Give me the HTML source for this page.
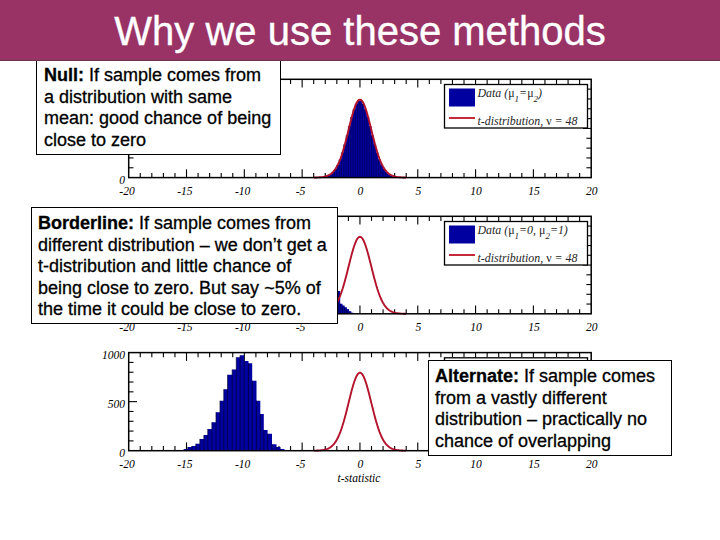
<!DOCTYPE html>
<html><head><meta charset="utf-8"><style>
html,body{margin:0;padding:0;}
body{-webkit-font-smoothing:antialiased;width:720px;height:540px;position:relative;overflow:hidden;background:#fff;font-family:"Liberation Sans",Arial,sans-serif;}
#hdr{position:absolute;left:0;top:0;width:720px;height:61px;background:linear-gradient(to bottom,#993366 0,#993366 56px,#a03068 56px,#a03068 57.6px,#8e3862 57.6px,#8e3862 59.5px,#702e50 59.5px,#702e50 60.5px,#f0e2ea 60.5px,#f6ecf2 61px);z-index:3;}
#hdr h1{margin:0;position:absolute;left:0;width:720px;top:0.5px;text-align:center;color:#fff;-webkit-text-stroke:0.35px #fff;font-weight:normal;font-size:40px;line-height:60px;}
svg{position:absolute;left:0;top:0;z-index:1;}
.ax{font-family:"Liberation Serif",serif;font-style:italic;font-size:11.5px;fill:#000;}
.lg{font-family:"Liberation Serif",serif;font-style:italic;font-size:11.9px;fill:#262626;}
.sym{font-style:normal;}
.box{position:absolute;z-index:2;background:#fff;border:1px solid #000;box-sizing:border-box;}
.tx{position:absolute;-webkit-text-stroke:0.3px #000;font-size:18px;line-height:21.5px;color:#000;white-space:nowrap;}
.tx b{font-weight:bold;}
</style></head><body>
<div id="hdr"><h1>Why we use these methods</h1></div>
<svg width="720" height="540" viewBox="0 0 720 540">
<line x1="140.26" y1="177.60" x2="140.26" y2="173.00" stroke="#000" stroke-width="1.1"/>
<line x1="140.26" y1="79.30" x2="140.26" y2="83.90" stroke="#000" stroke-width="1.1"/>
<line x1="151.82" y1="177.60" x2="151.82" y2="173.00" stroke="#000" stroke-width="1.1"/>
<line x1="151.82" y1="79.30" x2="151.82" y2="83.90" stroke="#000" stroke-width="1.1"/>
<line x1="163.39" y1="177.60" x2="163.39" y2="173.00" stroke="#000" stroke-width="1.1"/>
<line x1="163.39" y1="79.30" x2="163.39" y2="83.90" stroke="#000" stroke-width="1.1"/>
<line x1="174.95" y1="177.60" x2="174.95" y2="173.00" stroke="#000" stroke-width="1.1"/>
<line x1="174.95" y1="79.30" x2="174.95" y2="83.90" stroke="#000" stroke-width="1.1"/>
<line x1="186.51" y1="177.60" x2="186.51" y2="169.30" stroke="#000" stroke-width="1.1"/>
<line x1="186.51" y1="79.30" x2="186.51" y2="87.60" stroke="#000" stroke-width="1.1"/>
<line x1="198.07" y1="177.60" x2="198.07" y2="173.00" stroke="#000" stroke-width="1.1"/>
<line x1="198.07" y1="79.30" x2="198.07" y2="83.90" stroke="#000" stroke-width="1.1"/>
<line x1="209.64" y1="177.60" x2="209.64" y2="173.00" stroke="#000" stroke-width="1.1"/>
<line x1="209.64" y1="79.30" x2="209.64" y2="83.90" stroke="#000" stroke-width="1.1"/>
<line x1="221.20" y1="177.60" x2="221.20" y2="173.00" stroke="#000" stroke-width="1.1"/>
<line x1="221.20" y1="79.30" x2="221.20" y2="83.90" stroke="#000" stroke-width="1.1"/>
<line x1="232.76" y1="177.60" x2="232.76" y2="173.00" stroke="#000" stroke-width="1.1"/>
<line x1="232.76" y1="79.30" x2="232.76" y2="83.90" stroke="#000" stroke-width="1.1"/>
<line x1="244.32" y1="177.60" x2="244.32" y2="169.30" stroke="#000" stroke-width="1.1"/>
<line x1="244.32" y1="79.30" x2="244.32" y2="87.60" stroke="#000" stroke-width="1.1"/>
<line x1="255.89" y1="177.60" x2="255.89" y2="173.00" stroke="#000" stroke-width="1.1"/>
<line x1="255.89" y1="79.30" x2="255.89" y2="83.90" stroke="#000" stroke-width="1.1"/>
<line x1="267.45" y1="177.60" x2="267.45" y2="173.00" stroke="#000" stroke-width="1.1"/>
<line x1="267.45" y1="79.30" x2="267.45" y2="83.90" stroke="#000" stroke-width="1.1"/>
<line x1="279.01" y1="177.60" x2="279.01" y2="173.00" stroke="#000" stroke-width="1.1"/>
<line x1="279.01" y1="79.30" x2="279.01" y2="83.90" stroke="#000" stroke-width="1.1"/>
<line x1="290.57" y1="177.60" x2="290.57" y2="173.00" stroke="#000" stroke-width="1.1"/>
<line x1="290.57" y1="79.30" x2="290.57" y2="83.90" stroke="#000" stroke-width="1.1"/>
<line x1="302.14" y1="177.60" x2="302.14" y2="169.30" stroke="#000" stroke-width="1.1"/>
<line x1="302.14" y1="79.30" x2="302.14" y2="87.60" stroke="#000" stroke-width="1.1"/>
<line x1="313.70" y1="177.60" x2="313.70" y2="173.00" stroke="#000" stroke-width="1.1"/>
<line x1="313.70" y1="79.30" x2="313.70" y2="83.90" stroke="#000" stroke-width="1.1"/>
<line x1="325.26" y1="177.60" x2="325.26" y2="173.00" stroke="#000" stroke-width="1.1"/>
<line x1="325.26" y1="79.30" x2="325.26" y2="83.90" stroke="#000" stroke-width="1.1"/>
<line x1="336.82" y1="177.60" x2="336.82" y2="173.00" stroke="#000" stroke-width="1.1"/>
<line x1="336.82" y1="79.30" x2="336.82" y2="83.90" stroke="#000" stroke-width="1.1"/>
<line x1="348.39" y1="177.60" x2="348.39" y2="173.00" stroke="#000" stroke-width="1.1"/>
<line x1="348.39" y1="79.30" x2="348.39" y2="83.90" stroke="#000" stroke-width="1.1"/>
<line x1="359.95" y1="177.60" x2="359.95" y2="169.30" stroke="#000" stroke-width="1.1"/>
<line x1="359.95" y1="79.30" x2="359.95" y2="87.60" stroke="#000" stroke-width="1.1"/>
<line x1="371.51" y1="177.60" x2="371.51" y2="173.00" stroke="#000" stroke-width="1.1"/>
<line x1="371.51" y1="79.30" x2="371.51" y2="83.90" stroke="#000" stroke-width="1.1"/>
<line x1="383.07" y1="177.60" x2="383.07" y2="173.00" stroke="#000" stroke-width="1.1"/>
<line x1="383.07" y1="79.30" x2="383.07" y2="83.90" stroke="#000" stroke-width="1.1"/>
<line x1="394.64" y1="177.60" x2="394.64" y2="173.00" stroke="#000" stroke-width="1.1"/>
<line x1="394.64" y1="79.30" x2="394.64" y2="83.90" stroke="#000" stroke-width="1.1"/>
<line x1="406.20" y1="177.60" x2="406.20" y2="173.00" stroke="#000" stroke-width="1.1"/>
<line x1="406.20" y1="79.30" x2="406.20" y2="83.90" stroke="#000" stroke-width="1.1"/>
<line x1="417.76" y1="177.60" x2="417.76" y2="169.30" stroke="#000" stroke-width="1.1"/>
<line x1="417.76" y1="79.30" x2="417.76" y2="87.60" stroke="#000" stroke-width="1.1"/>
<line x1="429.32" y1="177.60" x2="429.32" y2="173.00" stroke="#000" stroke-width="1.1"/>
<line x1="429.32" y1="79.30" x2="429.32" y2="83.90" stroke="#000" stroke-width="1.1"/>
<line x1="440.89" y1="177.60" x2="440.89" y2="173.00" stroke="#000" stroke-width="1.1"/>
<line x1="440.89" y1="79.30" x2="440.89" y2="83.90" stroke="#000" stroke-width="1.1"/>
<line x1="452.45" y1="177.60" x2="452.45" y2="173.00" stroke="#000" stroke-width="1.1"/>
<line x1="452.45" y1="79.30" x2="452.45" y2="83.90" stroke="#000" stroke-width="1.1"/>
<line x1="464.01" y1="177.60" x2="464.01" y2="173.00" stroke="#000" stroke-width="1.1"/>
<line x1="464.01" y1="79.30" x2="464.01" y2="83.90" stroke="#000" stroke-width="1.1"/>
<line x1="475.57" y1="177.60" x2="475.57" y2="169.30" stroke="#000" stroke-width="1.1"/>
<line x1="475.57" y1="79.30" x2="475.57" y2="87.60" stroke="#000" stroke-width="1.1"/>
<line x1="487.14" y1="177.60" x2="487.14" y2="173.00" stroke="#000" stroke-width="1.1"/>
<line x1="487.14" y1="79.30" x2="487.14" y2="83.90" stroke="#000" stroke-width="1.1"/>
<line x1="498.70" y1="177.60" x2="498.70" y2="173.00" stroke="#000" stroke-width="1.1"/>
<line x1="498.70" y1="79.30" x2="498.70" y2="83.90" stroke="#000" stroke-width="1.1"/>
<line x1="510.26" y1="177.60" x2="510.26" y2="173.00" stroke="#000" stroke-width="1.1"/>
<line x1="510.26" y1="79.30" x2="510.26" y2="83.90" stroke="#000" stroke-width="1.1"/>
<line x1="521.83" y1="177.60" x2="521.83" y2="173.00" stroke="#000" stroke-width="1.1"/>
<line x1="521.83" y1="79.30" x2="521.83" y2="83.90" stroke="#000" stroke-width="1.1"/>
<line x1="533.39" y1="177.60" x2="533.39" y2="169.30" stroke="#000" stroke-width="1.1"/>
<line x1="533.39" y1="79.30" x2="533.39" y2="87.60" stroke="#000" stroke-width="1.1"/>
<line x1="544.95" y1="177.60" x2="544.95" y2="173.00" stroke="#000" stroke-width="1.1"/>
<line x1="544.95" y1="79.30" x2="544.95" y2="83.90" stroke="#000" stroke-width="1.1"/>
<line x1="556.51" y1="177.60" x2="556.51" y2="173.00" stroke="#000" stroke-width="1.1"/>
<line x1="556.51" y1="79.30" x2="556.51" y2="83.90" stroke="#000" stroke-width="1.1"/>
<line x1="568.08" y1="177.60" x2="568.08" y2="173.00" stroke="#000" stroke-width="1.1"/>
<line x1="568.08" y1="79.30" x2="568.08" y2="83.90" stroke="#000" stroke-width="1.1"/>
<line x1="579.64" y1="177.60" x2="579.64" y2="173.00" stroke="#000" stroke-width="1.1"/>
<line x1="579.64" y1="79.30" x2="579.64" y2="83.90" stroke="#000" stroke-width="1.1"/>
<line x1="128.70" y1="167.77" x2="133.50" y2="167.77" stroke="#000" stroke-width="1.1"/>
<line x1="591.20" y1="167.77" x2="586.40" y2="167.77" stroke="#000" stroke-width="1.1"/>
<line x1="128.70" y1="157.94" x2="133.50" y2="157.94" stroke="#000" stroke-width="1.1"/>
<line x1="591.20" y1="157.94" x2="586.40" y2="157.94" stroke="#000" stroke-width="1.1"/>
<line x1="128.70" y1="148.11" x2="133.50" y2="148.11" stroke="#000" stroke-width="1.1"/>
<line x1="591.20" y1="148.11" x2="586.40" y2="148.11" stroke="#000" stroke-width="1.1"/>
<line x1="128.70" y1="138.28" x2="133.50" y2="138.28" stroke="#000" stroke-width="1.1"/>
<line x1="591.20" y1="138.28" x2="586.40" y2="138.28" stroke="#000" stroke-width="1.1"/>
<line x1="128.70" y1="128.45" x2="137.00" y2="128.45" stroke="#000" stroke-width="1.1"/>
<line x1="591.20" y1="128.45" x2="582.90" y2="128.45" stroke="#000" stroke-width="1.1"/>
<line x1="128.70" y1="118.62" x2="133.50" y2="118.62" stroke="#000" stroke-width="1.1"/>
<line x1="591.20" y1="118.62" x2="586.40" y2="118.62" stroke="#000" stroke-width="1.1"/>
<line x1="128.70" y1="108.79" x2="133.50" y2="108.79" stroke="#000" stroke-width="1.1"/>
<line x1="591.20" y1="108.79" x2="586.40" y2="108.79" stroke="#000" stroke-width="1.1"/>
<line x1="128.70" y1="98.96" x2="133.50" y2="98.96" stroke="#000" stroke-width="1.1"/>
<line x1="591.20" y1="98.96" x2="586.40" y2="98.96" stroke="#000" stroke-width="1.1"/>
<line x1="128.70" y1="89.13" x2="133.50" y2="89.13" stroke="#000" stroke-width="1.1"/>
<line x1="591.20" y1="89.13" x2="586.40" y2="89.13" stroke="#000" stroke-width="1.1"/>
<polygon points="313.70,177.60 313.70,177.56 316.01,177.56 316.01,177.52 318.32,177.52 318.32,177.43 320.64,177.43 320.64,177.27 322.95,177.27 322.95,176.97 325.26,176.97 325.26,176.45 327.58,176.45 327.58,175.58 329.89,175.58 329.89,174.20 332.20,174.20 332.20,172.11 334.51,172.11 334.51,169.08 336.82,169.08 336.82,164.89 339.14,164.89 339.14,159.38 341.45,159.38 341.45,152.50 343.76,152.50 343.76,144.40 346.07,144.40 346.07,135.39 348.39,135.39 348.39,126.04 350.70,126.04 350.70,117.10 353.01,117.10 353.01,109.38 355.33,109.38 355.33,103.70 357.64,103.70 357.64,100.69 359.95,100.69 359.95,100.69 362.26,100.69 362.26,103.70 364.58,103.70 364.58,109.38 366.89,109.38 366.89,117.10 369.20,117.10 369.20,126.04 371.51,126.04 371.51,135.39 373.83,135.39 373.83,144.40 376.14,144.40 376.14,152.50 378.45,152.50 378.45,159.38 380.76,159.38 380.76,164.89 383.07,164.89 383.07,169.08 385.39,169.08 385.39,172.11 387.70,172.11 387.70,174.20 390.01,174.20 390.01,175.58 392.32,175.58 392.32,176.45 394.64,176.45 394.64,176.97 396.95,176.97 396.95,177.27 399.26,177.27 399.26,177.43 401.57,177.43 401.57,177.52 403.89,177.52 403.89,177.56 406.20,177.56 406.20,177.60" fill="#0000a0"/>
<line x1="325.26" y1="176.45" x2="325.26" y2="177.60" stroke="#000040" stroke-width="0.6"/>
<line x1="327.58" y1="175.58" x2="327.58" y2="177.60" stroke="#000040" stroke-width="0.6"/>
<line x1="329.89" y1="174.20" x2="329.89" y2="177.60" stroke="#000040" stroke-width="0.6"/>
<line x1="332.20" y1="172.11" x2="332.20" y2="177.60" stroke="#000040" stroke-width="0.6"/>
<line x1="334.51" y1="169.08" x2="334.51" y2="177.60" stroke="#000040" stroke-width="0.6"/>
<line x1="336.82" y1="164.89" x2="336.82" y2="177.60" stroke="#000040" stroke-width="0.6"/>
<line x1="339.14" y1="159.38" x2="339.14" y2="177.60" stroke="#000040" stroke-width="0.6"/>
<line x1="341.45" y1="152.50" x2="341.45" y2="177.60" stroke="#000040" stroke-width="0.6"/>
<line x1="343.76" y1="144.40" x2="343.76" y2="177.60" stroke="#000040" stroke-width="0.6"/>
<line x1="346.07" y1="135.39" x2="346.07" y2="177.60" stroke="#000040" stroke-width="0.6"/>
<line x1="348.39" y1="126.04" x2="348.39" y2="177.60" stroke="#000040" stroke-width="0.6"/>
<line x1="350.70" y1="117.10" x2="350.70" y2="177.60" stroke="#000040" stroke-width="0.6"/>
<line x1="353.01" y1="109.38" x2="353.01" y2="177.60" stroke="#000040" stroke-width="0.6"/>
<line x1="355.33" y1="103.70" x2="355.33" y2="177.60" stroke="#000040" stroke-width="0.6"/>
<line x1="357.64" y1="100.69" x2="357.64" y2="177.60" stroke="#000040" stroke-width="0.6"/>
<line x1="359.95" y1="100.69" x2="359.95" y2="177.60" stroke="#000040" stroke-width="0.6"/>
<line x1="362.26" y1="103.70" x2="362.26" y2="177.60" stroke="#000040" stroke-width="0.6"/>
<line x1="364.58" y1="109.38" x2="364.58" y2="177.60" stroke="#000040" stroke-width="0.6"/>
<line x1="366.89" y1="117.10" x2="366.89" y2="177.60" stroke="#000040" stroke-width="0.6"/>
<line x1="369.20" y1="126.04" x2="369.20" y2="177.60" stroke="#000040" stroke-width="0.6"/>
<line x1="371.51" y1="135.39" x2="371.51" y2="177.60" stroke="#000040" stroke-width="0.6"/>
<line x1="373.83" y1="144.40" x2="373.83" y2="177.60" stroke="#000040" stroke-width="0.6"/>
<line x1="376.14" y1="152.50" x2="376.14" y2="177.60" stroke="#000040" stroke-width="0.6"/>
<line x1="378.45" y1="159.38" x2="378.45" y2="177.60" stroke="#000040" stroke-width="0.6"/>
<line x1="380.76" y1="164.89" x2="380.76" y2="177.60" stroke="#000040" stroke-width="0.6"/>
<line x1="383.07" y1="169.08" x2="383.07" y2="177.60" stroke="#000040" stroke-width="0.6"/>
<line x1="385.39" y1="172.11" x2="385.39" y2="177.60" stroke="#000040" stroke-width="0.6"/>
<line x1="387.70" y1="174.20" x2="387.70" y2="177.60" stroke="#000040" stroke-width="0.6"/>
<line x1="390.01" y1="175.58" x2="390.01" y2="177.60" stroke="#000040" stroke-width="0.6"/>
<line x1="392.32" y1="176.45" x2="392.32" y2="177.60" stroke="#000040" stroke-width="0.6"/>
<polyline points="313.70,177.53 314.86,177.51 316.01,177.48 317.17,177.43 318.32,177.38 319.48,177.30 320.64,177.21 321.79,177.08 322.95,176.92 324.11,176.71 325.26,176.44 326.42,176.11 327.58,175.68 328.73,175.16 329.89,174.51 331.04,173.71 332.20,172.74 333.36,171.58 334.51,170.19 335.67,168.55 336.82,166.62 337.98,164.40 339.14,161.86 340.29,158.98 341.45,155.76 342.61,152.21 343.76,148.34 344.92,144.19 346.08,139.79 347.23,135.22 348.39,130.53 349.54,125.83 350.70,121.22 351.86,116.78 353.01,112.65 354.17,108.92 355.33,105.71 356.48,103.10 357.64,101.18 358.79,100.00 359.95,99.60 361.11,100.00 362.26,101.18 363.42,103.10 364.58,105.71 365.73,108.92 366.89,112.65 368.04,116.78 369.20,121.22 370.36,125.83 371.51,130.53 372.67,135.22 373.83,139.79 374.98,144.19 376.14,148.34 377.29,152.21 378.45,155.76 379.61,158.98 380.76,161.86 381.92,164.40 383.08,166.62 384.23,168.55 385.39,170.19 386.54,171.58 387.70,172.74 388.86,173.71 390.01,174.51 391.17,175.16 392.33,175.68 393.48,176.11 394.64,176.44 395.79,176.71 396.95,176.92 398.11,177.08 399.26,177.21 400.42,177.30 401.58,177.38 402.73,177.43 403.89,177.48 405.04,177.51 406.20,177.53" fill="none" stroke="#b3122a" stroke-width="1.9" stroke-linejoin="round"/>
<rect x="128.70" y="79.30" width="462.50" height="98.30" fill="none" stroke="#000" stroke-width="1.5"/>
<text x="127.00" y="194.90" text-anchor="middle" class="ax">-20</text>
<text x="184.81" y="194.90" text-anchor="middle" class="ax">-15</text>
<text x="242.62" y="194.90" text-anchor="middle" class="ax">-10</text>
<text x="300.44" y="194.90" text-anchor="middle" class="ax">-5</text>
<text x="360.45" y="194.90" text-anchor="middle" class="ax">0</text>
<text x="418.26" y="194.90" text-anchor="middle" class="ax">5</text>
<text x="476.07" y="194.90" text-anchor="middle" class="ax">10</text>
<text x="533.89" y="194.90" text-anchor="middle" class="ax">15</text>
<text x="591.70" y="194.90" text-anchor="middle" class="ax">20</text>
<text x="125" y="184.10" text-anchor="end" class="ax">0</text>
<rect x="444.5" y="84.50" width="143.0" height="43.50" fill="#fff" stroke="#000" stroke-width="1.3"/>
<rect x="449" y="88.50" width="26" height="18" fill="#0000a0"/>
<line x1="449" y1="118.00" x2="475" y2="118.00" stroke="#c42a3a" stroke-width="2"/>
<text x="477.5" y="96.80" class="lg">Data (<tspan class="sym">μ</tspan><tspan dy="5" font-size="9">1</tspan><tspan dy="-5">=</tspan><tspan class="sym">μ</tspan><tspan dy="5" font-size="9">2</tspan><tspan dy="-5">)</tspan></text>
<text x="477.5" y="124.50" class="lg">t-distribution, <tspan class="sym">ν</tspan> = 48</text>
<line x1="140.26" y1="313.80" x2="140.26" y2="309.20" stroke="#000" stroke-width="1.1"/>
<line x1="140.26" y1="216.30" x2="140.26" y2="220.90" stroke="#000" stroke-width="1.1"/>
<line x1="151.82" y1="313.80" x2="151.82" y2="309.20" stroke="#000" stroke-width="1.1"/>
<line x1="151.82" y1="216.30" x2="151.82" y2="220.90" stroke="#000" stroke-width="1.1"/>
<line x1="163.39" y1="313.80" x2="163.39" y2="309.20" stroke="#000" stroke-width="1.1"/>
<line x1="163.39" y1="216.30" x2="163.39" y2="220.90" stroke="#000" stroke-width="1.1"/>
<line x1="174.95" y1="313.80" x2="174.95" y2="309.20" stroke="#000" stroke-width="1.1"/>
<line x1="174.95" y1="216.30" x2="174.95" y2="220.90" stroke="#000" stroke-width="1.1"/>
<line x1="186.51" y1="313.80" x2="186.51" y2="305.50" stroke="#000" stroke-width="1.1"/>
<line x1="186.51" y1="216.30" x2="186.51" y2="224.60" stroke="#000" stroke-width="1.1"/>
<line x1="198.07" y1="313.80" x2="198.07" y2="309.20" stroke="#000" stroke-width="1.1"/>
<line x1="198.07" y1="216.30" x2="198.07" y2="220.90" stroke="#000" stroke-width="1.1"/>
<line x1="209.64" y1="313.80" x2="209.64" y2="309.20" stroke="#000" stroke-width="1.1"/>
<line x1="209.64" y1="216.30" x2="209.64" y2="220.90" stroke="#000" stroke-width="1.1"/>
<line x1="221.20" y1="313.80" x2="221.20" y2="309.20" stroke="#000" stroke-width="1.1"/>
<line x1="221.20" y1="216.30" x2="221.20" y2="220.90" stroke="#000" stroke-width="1.1"/>
<line x1="232.76" y1="313.80" x2="232.76" y2="309.20" stroke="#000" stroke-width="1.1"/>
<line x1="232.76" y1="216.30" x2="232.76" y2="220.90" stroke="#000" stroke-width="1.1"/>
<line x1="244.32" y1="313.80" x2="244.32" y2="305.50" stroke="#000" stroke-width="1.1"/>
<line x1="244.32" y1="216.30" x2="244.32" y2="224.60" stroke="#000" stroke-width="1.1"/>
<line x1="255.89" y1="313.80" x2="255.89" y2="309.20" stroke="#000" stroke-width="1.1"/>
<line x1="255.89" y1="216.30" x2="255.89" y2="220.90" stroke="#000" stroke-width="1.1"/>
<line x1="267.45" y1="313.80" x2="267.45" y2="309.20" stroke="#000" stroke-width="1.1"/>
<line x1="267.45" y1="216.30" x2="267.45" y2="220.90" stroke="#000" stroke-width="1.1"/>
<line x1="279.01" y1="313.80" x2="279.01" y2="309.20" stroke="#000" stroke-width="1.1"/>
<line x1="279.01" y1="216.30" x2="279.01" y2="220.90" stroke="#000" stroke-width="1.1"/>
<line x1="290.57" y1="313.80" x2="290.57" y2="309.20" stroke="#000" stroke-width="1.1"/>
<line x1="290.57" y1="216.30" x2="290.57" y2="220.90" stroke="#000" stroke-width="1.1"/>
<line x1="302.14" y1="313.80" x2="302.14" y2="305.50" stroke="#000" stroke-width="1.1"/>
<line x1="302.14" y1="216.30" x2="302.14" y2="224.60" stroke="#000" stroke-width="1.1"/>
<line x1="313.70" y1="313.80" x2="313.70" y2="309.20" stroke="#000" stroke-width="1.1"/>
<line x1="313.70" y1="216.30" x2="313.70" y2="220.90" stroke="#000" stroke-width="1.1"/>
<line x1="325.26" y1="313.80" x2="325.26" y2="309.20" stroke="#000" stroke-width="1.1"/>
<line x1="325.26" y1="216.30" x2="325.26" y2="220.90" stroke="#000" stroke-width="1.1"/>
<line x1="336.82" y1="313.80" x2="336.82" y2="309.20" stroke="#000" stroke-width="1.1"/>
<line x1="336.82" y1="216.30" x2="336.82" y2="220.90" stroke="#000" stroke-width="1.1"/>
<line x1="348.39" y1="313.80" x2="348.39" y2="309.20" stroke="#000" stroke-width="1.1"/>
<line x1="348.39" y1="216.30" x2="348.39" y2="220.90" stroke="#000" stroke-width="1.1"/>
<line x1="359.95" y1="313.80" x2="359.95" y2="305.50" stroke="#000" stroke-width="1.1"/>
<line x1="359.95" y1="216.30" x2="359.95" y2="224.60" stroke="#000" stroke-width="1.1"/>
<line x1="371.51" y1="313.80" x2="371.51" y2="309.20" stroke="#000" stroke-width="1.1"/>
<line x1="371.51" y1="216.30" x2="371.51" y2="220.90" stroke="#000" stroke-width="1.1"/>
<line x1="383.07" y1="313.80" x2="383.07" y2="309.20" stroke="#000" stroke-width="1.1"/>
<line x1="383.07" y1="216.30" x2="383.07" y2="220.90" stroke="#000" stroke-width="1.1"/>
<line x1="394.64" y1="313.80" x2="394.64" y2="309.20" stroke="#000" stroke-width="1.1"/>
<line x1="394.64" y1="216.30" x2="394.64" y2="220.90" stroke="#000" stroke-width="1.1"/>
<line x1="406.20" y1="313.80" x2="406.20" y2="309.20" stroke="#000" stroke-width="1.1"/>
<line x1="406.20" y1="216.30" x2="406.20" y2="220.90" stroke="#000" stroke-width="1.1"/>
<line x1="417.76" y1="313.80" x2="417.76" y2="305.50" stroke="#000" stroke-width="1.1"/>
<line x1="417.76" y1="216.30" x2="417.76" y2="224.60" stroke="#000" stroke-width="1.1"/>
<line x1="429.32" y1="313.80" x2="429.32" y2="309.20" stroke="#000" stroke-width="1.1"/>
<line x1="429.32" y1="216.30" x2="429.32" y2="220.90" stroke="#000" stroke-width="1.1"/>
<line x1="440.89" y1="313.80" x2="440.89" y2="309.20" stroke="#000" stroke-width="1.1"/>
<line x1="440.89" y1="216.30" x2="440.89" y2="220.90" stroke="#000" stroke-width="1.1"/>
<line x1="452.45" y1="313.80" x2="452.45" y2="309.20" stroke="#000" stroke-width="1.1"/>
<line x1="452.45" y1="216.30" x2="452.45" y2="220.90" stroke="#000" stroke-width="1.1"/>
<line x1="464.01" y1="313.80" x2="464.01" y2="309.20" stroke="#000" stroke-width="1.1"/>
<line x1="464.01" y1="216.30" x2="464.01" y2="220.90" stroke="#000" stroke-width="1.1"/>
<line x1="475.57" y1="313.80" x2="475.57" y2="305.50" stroke="#000" stroke-width="1.1"/>
<line x1="475.57" y1="216.30" x2="475.57" y2="224.60" stroke="#000" stroke-width="1.1"/>
<line x1="487.14" y1="313.80" x2="487.14" y2="309.20" stroke="#000" stroke-width="1.1"/>
<line x1="487.14" y1="216.30" x2="487.14" y2="220.90" stroke="#000" stroke-width="1.1"/>
<line x1="498.70" y1="313.80" x2="498.70" y2="309.20" stroke="#000" stroke-width="1.1"/>
<line x1="498.70" y1="216.30" x2="498.70" y2="220.90" stroke="#000" stroke-width="1.1"/>
<line x1="510.26" y1="313.80" x2="510.26" y2="309.20" stroke="#000" stroke-width="1.1"/>
<line x1="510.26" y1="216.30" x2="510.26" y2="220.90" stroke="#000" stroke-width="1.1"/>
<line x1="521.83" y1="313.80" x2="521.83" y2="309.20" stroke="#000" stroke-width="1.1"/>
<line x1="521.83" y1="216.30" x2="521.83" y2="220.90" stroke="#000" stroke-width="1.1"/>
<line x1="533.39" y1="313.80" x2="533.39" y2="305.50" stroke="#000" stroke-width="1.1"/>
<line x1="533.39" y1="216.30" x2="533.39" y2="224.60" stroke="#000" stroke-width="1.1"/>
<line x1="544.95" y1="313.80" x2="544.95" y2="309.20" stroke="#000" stroke-width="1.1"/>
<line x1="544.95" y1="216.30" x2="544.95" y2="220.90" stroke="#000" stroke-width="1.1"/>
<line x1="556.51" y1="313.80" x2="556.51" y2="309.20" stroke="#000" stroke-width="1.1"/>
<line x1="556.51" y1="216.30" x2="556.51" y2="220.90" stroke="#000" stroke-width="1.1"/>
<line x1="568.08" y1="313.80" x2="568.08" y2="309.20" stroke="#000" stroke-width="1.1"/>
<line x1="568.08" y1="216.30" x2="568.08" y2="220.90" stroke="#000" stroke-width="1.1"/>
<line x1="579.64" y1="313.80" x2="579.64" y2="309.20" stroke="#000" stroke-width="1.1"/>
<line x1="579.64" y1="216.30" x2="579.64" y2="220.90" stroke="#000" stroke-width="1.1"/>
<line x1="128.70" y1="304.05" x2="133.50" y2="304.05" stroke="#000" stroke-width="1.1"/>
<line x1="591.20" y1="304.05" x2="586.40" y2="304.05" stroke="#000" stroke-width="1.1"/>
<line x1="128.70" y1="294.30" x2="133.50" y2="294.30" stroke="#000" stroke-width="1.1"/>
<line x1="591.20" y1="294.30" x2="586.40" y2="294.30" stroke="#000" stroke-width="1.1"/>
<line x1="128.70" y1="284.55" x2="133.50" y2="284.55" stroke="#000" stroke-width="1.1"/>
<line x1="591.20" y1="284.55" x2="586.40" y2="284.55" stroke="#000" stroke-width="1.1"/>
<line x1="128.70" y1="274.80" x2="133.50" y2="274.80" stroke="#000" stroke-width="1.1"/>
<line x1="591.20" y1="274.80" x2="586.40" y2="274.80" stroke="#000" stroke-width="1.1"/>
<line x1="128.70" y1="265.05" x2="137.00" y2="265.05" stroke="#000" stroke-width="1.1"/>
<line x1="591.20" y1="265.05" x2="582.90" y2="265.05" stroke="#000" stroke-width="1.1"/>
<line x1="128.70" y1="255.30" x2="133.50" y2="255.30" stroke="#000" stroke-width="1.1"/>
<line x1="591.20" y1="255.30" x2="586.40" y2="255.30" stroke="#000" stroke-width="1.1"/>
<line x1="128.70" y1="245.55" x2="133.50" y2="245.55" stroke="#000" stroke-width="1.1"/>
<line x1="591.20" y1="245.55" x2="586.40" y2="245.55" stroke="#000" stroke-width="1.1"/>
<line x1="128.70" y1="235.80" x2="133.50" y2="235.80" stroke="#000" stroke-width="1.1"/>
<line x1="591.20" y1="235.80" x2="586.40" y2="235.80" stroke="#000" stroke-width="1.1"/>
<line x1="128.70" y1="226.05" x2="133.50" y2="226.05" stroke="#000" stroke-width="1.1"/>
<line x1="591.20" y1="226.05" x2="586.40" y2="226.05" stroke="#000" stroke-width="1.1"/>
<polygon points="300.00,313.80 300.00,260.00 338.00,260.00 338.00,291.00 340.20,291.00 340.20,303.80 342.50,303.80 342.50,305.50 344.70,305.50 344.70,307.30 346.90,307.30 346.90,309.30 349.10,309.30 349.10,311.20 351.30,311.20 351.30,312.80 353.50,312.80 353.50,313.80" fill="#0000a0"/>
<line x1="338.00" y1="291.00" x2="338.00" y2="313.80" stroke="#000030" stroke-width="0.7"/>
<line x1="340.20" y1="303.80" x2="340.20" y2="313.80" stroke="#000030" stroke-width="0.7"/>
<line x1="342.50" y1="305.50" x2="342.50" y2="313.80" stroke="#000030" stroke-width="0.7"/>
<line x1="344.70" y1="307.30" x2="344.70" y2="313.80" stroke="#000030" stroke-width="0.7"/>
<line x1="346.90" y1="309.30" x2="346.90" y2="313.80" stroke="#000030" stroke-width="0.7"/>
<line x1="349.10" y1="311.20" x2="349.10" y2="313.80" stroke="#000030" stroke-width="0.7"/>
<line x1="351.30" y1="312.80" x2="351.30" y2="313.80" stroke="#000030" stroke-width="0.7"/>
<polyline points="313.70,313.73 314.86,313.71 316.01,313.68 317.17,313.64 318.32,313.58 319.48,313.51 320.64,313.41 321.79,313.29 322.95,313.13 324.11,312.92 325.26,312.66 326.42,312.33 327.58,311.91 328.73,311.39 329.89,310.75 331.04,309.96 332.20,309.01 333.36,307.86 334.51,306.48 335.67,304.86 336.82,302.97 337.98,300.77 339.14,298.26 340.29,295.42 341.45,292.24 342.61,288.74 343.76,284.92 344.92,280.82 346.08,276.48 347.23,271.96 348.39,267.34 349.54,262.70 350.70,258.14 351.86,253.76 353.01,249.68 354.17,246.00 355.33,242.83 356.48,240.25 357.64,238.36 358.79,237.19 359.95,236.80 361.11,237.19 362.26,238.36 363.42,240.25 364.58,242.83 365.73,246.00 366.89,249.68 368.04,253.76 369.20,258.14 370.36,262.70 371.51,267.34 372.67,271.96 373.83,276.48 374.98,280.82 376.14,284.92 377.29,288.74 378.45,292.24 379.61,295.42 380.76,298.26 381.92,300.77 383.08,302.97 384.23,304.86 385.39,306.48 386.54,307.86 387.70,309.01 388.86,309.96 390.01,310.75 391.17,311.39 392.33,311.91 393.48,312.33 394.64,312.66 395.79,312.92 396.95,313.13 398.11,313.29 399.26,313.41 400.42,313.51 401.58,313.58 402.73,313.64 403.89,313.68 405.04,313.71 406.20,313.73" fill="none" stroke="#b3122a" stroke-width="1.9" stroke-linejoin="round"/>
<rect x="128.70" y="216.30" width="462.50" height="97.50" fill="none" stroke="#000" stroke-width="1.5"/>
<text x="127.00" y="331.10" text-anchor="middle" class="ax">-20</text>
<text x="184.81" y="331.10" text-anchor="middle" class="ax">-15</text>
<text x="242.62" y="331.10" text-anchor="middle" class="ax">-10</text>
<text x="300.44" y="331.10" text-anchor="middle" class="ax">-5</text>
<text x="360.45" y="331.10" text-anchor="middle" class="ax">0</text>
<text x="418.26" y="331.10" text-anchor="middle" class="ax">5</text>
<text x="476.07" y="331.10" text-anchor="middle" class="ax">10</text>
<text x="533.89" y="331.10" text-anchor="middle" class="ax">15</text>
<text x="591.70" y="331.10" text-anchor="middle" class="ax">20</text>
<text x="125" y="320.30" text-anchor="end" class="ax">0</text>
<rect x="444.5" y="221.50" width="143.0" height="43.50" fill="#fff" stroke="#000" stroke-width="1.3"/>
<rect x="449" y="225.50" width="26" height="18" fill="#0000a0"/>
<line x1="449" y1="255.00" x2="475" y2="255.00" stroke="#c42a3a" stroke-width="2"/>
<text x="477.5" y="233.80" class="lg">Data (<tspan class="sym">μ</tspan><tspan dy="5" font-size="9">1</tspan><tspan dy="-5">=0, </tspan><tspan class="sym">μ</tspan><tspan dy="5" font-size="9">2</tspan><tspan dy="-5">=1)</tspan></text>
<text x="477.5" y="261.50" class="lg">t-distribution, <tspan class="sym">ν</tspan> = 48</text>
<line x1="140.26" y1="450.70" x2="140.26" y2="446.10" stroke="#000" stroke-width="1.1"/>
<line x1="140.26" y1="352.60" x2="140.26" y2="357.20" stroke="#000" stroke-width="1.1"/>
<line x1="151.82" y1="450.70" x2="151.82" y2="446.10" stroke="#000" stroke-width="1.1"/>
<line x1="151.82" y1="352.60" x2="151.82" y2="357.20" stroke="#000" stroke-width="1.1"/>
<line x1="163.39" y1="450.70" x2="163.39" y2="446.10" stroke="#000" stroke-width="1.1"/>
<line x1="163.39" y1="352.60" x2="163.39" y2="357.20" stroke="#000" stroke-width="1.1"/>
<line x1="174.95" y1="450.70" x2="174.95" y2="446.10" stroke="#000" stroke-width="1.1"/>
<line x1="174.95" y1="352.60" x2="174.95" y2="357.20" stroke="#000" stroke-width="1.1"/>
<line x1="186.51" y1="450.70" x2="186.51" y2="442.40" stroke="#000" stroke-width="1.1"/>
<line x1="186.51" y1="352.60" x2="186.51" y2="360.90" stroke="#000" stroke-width="1.1"/>
<line x1="198.07" y1="450.70" x2="198.07" y2="446.10" stroke="#000" stroke-width="1.1"/>
<line x1="198.07" y1="352.60" x2="198.07" y2="357.20" stroke="#000" stroke-width="1.1"/>
<line x1="209.64" y1="450.70" x2="209.64" y2="446.10" stroke="#000" stroke-width="1.1"/>
<line x1="209.64" y1="352.60" x2="209.64" y2="357.20" stroke="#000" stroke-width="1.1"/>
<line x1="221.20" y1="450.70" x2="221.20" y2="446.10" stroke="#000" stroke-width="1.1"/>
<line x1="221.20" y1="352.60" x2="221.20" y2="357.20" stroke="#000" stroke-width="1.1"/>
<line x1="232.76" y1="450.70" x2="232.76" y2="446.10" stroke="#000" stroke-width="1.1"/>
<line x1="232.76" y1="352.60" x2="232.76" y2="357.20" stroke="#000" stroke-width="1.1"/>
<line x1="244.32" y1="450.70" x2="244.32" y2="442.40" stroke="#000" stroke-width="1.1"/>
<line x1="244.32" y1="352.60" x2="244.32" y2="360.90" stroke="#000" stroke-width="1.1"/>
<line x1="255.89" y1="450.70" x2="255.89" y2="446.10" stroke="#000" stroke-width="1.1"/>
<line x1="255.89" y1="352.60" x2="255.89" y2="357.20" stroke="#000" stroke-width="1.1"/>
<line x1="267.45" y1="450.70" x2="267.45" y2="446.10" stroke="#000" stroke-width="1.1"/>
<line x1="267.45" y1="352.60" x2="267.45" y2="357.20" stroke="#000" stroke-width="1.1"/>
<line x1="279.01" y1="450.70" x2="279.01" y2="446.10" stroke="#000" stroke-width="1.1"/>
<line x1="279.01" y1="352.60" x2="279.01" y2="357.20" stroke="#000" stroke-width="1.1"/>
<line x1="290.57" y1="450.70" x2="290.57" y2="446.10" stroke="#000" stroke-width="1.1"/>
<line x1="290.57" y1="352.60" x2="290.57" y2="357.20" stroke="#000" stroke-width="1.1"/>
<line x1="302.14" y1="450.70" x2="302.14" y2="442.40" stroke="#000" stroke-width="1.1"/>
<line x1="302.14" y1="352.60" x2="302.14" y2="360.90" stroke="#000" stroke-width="1.1"/>
<line x1="313.70" y1="450.70" x2="313.70" y2="446.10" stroke="#000" stroke-width="1.1"/>
<line x1="313.70" y1="352.60" x2="313.70" y2="357.20" stroke="#000" stroke-width="1.1"/>
<line x1="325.26" y1="450.70" x2="325.26" y2="446.10" stroke="#000" stroke-width="1.1"/>
<line x1="325.26" y1="352.60" x2="325.26" y2="357.20" stroke="#000" stroke-width="1.1"/>
<line x1="336.82" y1="450.70" x2="336.82" y2="446.10" stroke="#000" stroke-width="1.1"/>
<line x1="336.82" y1="352.60" x2="336.82" y2="357.20" stroke="#000" stroke-width="1.1"/>
<line x1="348.39" y1="450.70" x2="348.39" y2="446.10" stroke="#000" stroke-width="1.1"/>
<line x1="348.39" y1="352.60" x2="348.39" y2="357.20" stroke="#000" stroke-width="1.1"/>
<line x1="359.95" y1="450.70" x2="359.95" y2="442.40" stroke="#000" stroke-width="1.1"/>
<line x1="359.95" y1="352.60" x2="359.95" y2="360.90" stroke="#000" stroke-width="1.1"/>
<line x1="371.51" y1="450.70" x2="371.51" y2="446.10" stroke="#000" stroke-width="1.1"/>
<line x1="371.51" y1="352.60" x2="371.51" y2="357.20" stroke="#000" stroke-width="1.1"/>
<line x1="383.07" y1="450.70" x2="383.07" y2="446.10" stroke="#000" stroke-width="1.1"/>
<line x1="383.07" y1="352.60" x2="383.07" y2="357.20" stroke="#000" stroke-width="1.1"/>
<line x1="394.64" y1="450.70" x2="394.64" y2="446.10" stroke="#000" stroke-width="1.1"/>
<line x1="394.64" y1="352.60" x2="394.64" y2="357.20" stroke="#000" stroke-width="1.1"/>
<line x1="406.20" y1="450.70" x2="406.20" y2="446.10" stroke="#000" stroke-width="1.1"/>
<line x1="406.20" y1="352.60" x2="406.20" y2="357.20" stroke="#000" stroke-width="1.1"/>
<line x1="417.76" y1="450.70" x2="417.76" y2="442.40" stroke="#000" stroke-width="1.1"/>
<line x1="417.76" y1="352.60" x2="417.76" y2="360.90" stroke="#000" stroke-width="1.1"/>
<line x1="429.32" y1="450.70" x2="429.32" y2="446.10" stroke="#000" stroke-width="1.1"/>
<line x1="429.32" y1="352.60" x2="429.32" y2="357.20" stroke="#000" stroke-width="1.1"/>
<line x1="440.89" y1="450.70" x2="440.89" y2="446.10" stroke="#000" stroke-width="1.1"/>
<line x1="440.89" y1="352.60" x2="440.89" y2="357.20" stroke="#000" stroke-width="1.1"/>
<line x1="452.45" y1="450.70" x2="452.45" y2="446.10" stroke="#000" stroke-width="1.1"/>
<line x1="452.45" y1="352.60" x2="452.45" y2="357.20" stroke="#000" stroke-width="1.1"/>
<line x1="464.01" y1="450.70" x2="464.01" y2="446.10" stroke="#000" stroke-width="1.1"/>
<line x1="464.01" y1="352.60" x2="464.01" y2="357.20" stroke="#000" stroke-width="1.1"/>
<line x1="475.57" y1="450.70" x2="475.57" y2="442.40" stroke="#000" stroke-width="1.1"/>
<line x1="475.57" y1="352.60" x2="475.57" y2="360.90" stroke="#000" stroke-width="1.1"/>
<line x1="487.14" y1="450.70" x2="487.14" y2="446.10" stroke="#000" stroke-width="1.1"/>
<line x1="487.14" y1="352.60" x2="487.14" y2="357.20" stroke="#000" stroke-width="1.1"/>
<line x1="498.70" y1="450.70" x2="498.70" y2="446.10" stroke="#000" stroke-width="1.1"/>
<line x1="498.70" y1="352.60" x2="498.70" y2="357.20" stroke="#000" stroke-width="1.1"/>
<line x1="510.26" y1="450.70" x2="510.26" y2="446.10" stroke="#000" stroke-width="1.1"/>
<line x1="510.26" y1="352.60" x2="510.26" y2="357.20" stroke="#000" stroke-width="1.1"/>
<line x1="521.83" y1="450.70" x2="521.83" y2="446.10" stroke="#000" stroke-width="1.1"/>
<line x1="521.83" y1="352.60" x2="521.83" y2="357.20" stroke="#000" stroke-width="1.1"/>
<line x1="533.39" y1="450.70" x2="533.39" y2="442.40" stroke="#000" stroke-width="1.1"/>
<line x1="533.39" y1="352.60" x2="533.39" y2="360.90" stroke="#000" stroke-width="1.1"/>
<line x1="544.95" y1="450.70" x2="544.95" y2="446.10" stroke="#000" stroke-width="1.1"/>
<line x1="544.95" y1="352.60" x2="544.95" y2="357.20" stroke="#000" stroke-width="1.1"/>
<line x1="556.51" y1="450.70" x2="556.51" y2="446.10" stroke="#000" stroke-width="1.1"/>
<line x1="556.51" y1="352.60" x2="556.51" y2="357.20" stroke="#000" stroke-width="1.1"/>
<line x1="568.08" y1="450.70" x2="568.08" y2="446.10" stroke="#000" stroke-width="1.1"/>
<line x1="568.08" y1="352.60" x2="568.08" y2="357.20" stroke="#000" stroke-width="1.1"/>
<line x1="579.64" y1="450.70" x2="579.64" y2="446.10" stroke="#000" stroke-width="1.1"/>
<line x1="579.64" y1="352.60" x2="579.64" y2="357.20" stroke="#000" stroke-width="1.1"/>
<line x1="128.70" y1="440.89" x2="133.50" y2="440.89" stroke="#000" stroke-width="1.1"/>
<line x1="591.20" y1="440.89" x2="586.40" y2="440.89" stroke="#000" stroke-width="1.1"/>
<line x1="128.70" y1="431.08" x2="133.50" y2="431.08" stroke="#000" stroke-width="1.1"/>
<line x1="591.20" y1="431.08" x2="586.40" y2="431.08" stroke="#000" stroke-width="1.1"/>
<line x1="128.70" y1="421.27" x2="133.50" y2="421.27" stroke="#000" stroke-width="1.1"/>
<line x1="591.20" y1="421.27" x2="586.40" y2="421.27" stroke="#000" stroke-width="1.1"/>
<line x1="128.70" y1="411.46" x2="133.50" y2="411.46" stroke="#000" stroke-width="1.1"/>
<line x1="591.20" y1="411.46" x2="586.40" y2="411.46" stroke="#000" stroke-width="1.1"/>
<line x1="128.70" y1="401.65" x2="137.00" y2="401.65" stroke="#000" stroke-width="1.1"/>
<line x1="591.20" y1="401.65" x2="582.90" y2="401.65" stroke="#000" stroke-width="1.1"/>
<line x1="128.70" y1="391.84" x2="133.50" y2="391.84" stroke="#000" stroke-width="1.1"/>
<line x1="591.20" y1="391.84" x2="586.40" y2="391.84" stroke="#000" stroke-width="1.1"/>
<line x1="128.70" y1="382.03" x2="133.50" y2="382.03" stroke="#000" stroke-width="1.1"/>
<line x1="591.20" y1="382.03" x2="586.40" y2="382.03" stroke="#000" stroke-width="1.1"/>
<line x1="128.70" y1="372.22" x2="133.50" y2="372.22" stroke="#000" stroke-width="1.1"/>
<line x1="591.20" y1="372.22" x2="586.40" y2="372.22" stroke="#000" stroke-width="1.1"/>
<line x1="128.70" y1="362.41" x2="133.50" y2="362.41" stroke="#000" stroke-width="1.1"/>
<line x1="591.20" y1="362.41" x2="586.40" y2="362.41" stroke="#000" stroke-width="1.1"/>
<polygon points="183.70,450.70 183.70,449.00 187.80,449.00 187.80,447.00 191.80,447.00 191.80,446.00 195.80,446.00 195.80,443.80 199.90,443.80 199.90,439.00 203.90,439.00 203.90,435.10 207.80,435.10 207.80,429.00 211.90,429.00 211.90,422.20 216.00,422.20 216.00,412.20 220.00,412.20 220.00,400.75 223.80,400.75 223.80,389.20 227.60,389.20 227.60,374.80 232.20,374.80 232.20,369.40 236.30,369.40 236.30,357.20 240.10,357.20 240.10,355.20 244.10,355.20 244.10,361.10 248.50,361.10 248.50,363.20 252.20,363.20 252.20,380.70 256.50,380.70 256.50,400.70 260.30,400.70 260.30,414.00 263.80,414.00 263.80,430.00 267.60,430.00 267.60,433.80 272.00,433.80 272.00,444.20 276.50,444.20 276.50,446.90 280.50,446.90 280.50,448.90 284.50,448.90 284.50,450.70" fill="#0000a0"/>
<line x1="187.80" y1="447.00" x2="187.80" y2="450.70" stroke="#000030" stroke-width="0.7"/>
<line x1="191.80" y1="446.00" x2="191.80" y2="450.70" stroke="#000030" stroke-width="0.7"/>
<line x1="195.80" y1="443.80" x2="195.80" y2="450.70" stroke="#000030" stroke-width="0.7"/>
<line x1="199.90" y1="439.00" x2="199.90" y2="450.70" stroke="#000030" stroke-width="0.7"/>
<line x1="203.90" y1="435.10" x2="203.90" y2="450.70" stroke="#000030" stroke-width="0.7"/>
<line x1="207.80" y1="429.00" x2="207.80" y2="450.70" stroke="#000030" stroke-width="0.7"/>
<line x1="211.90" y1="422.20" x2="211.90" y2="450.70" stroke="#000030" stroke-width="0.7"/>
<line x1="216.00" y1="412.20" x2="216.00" y2="450.70" stroke="#000030" stroke-width="0.7"/>
<line x1="220.00" y1="400.75" x2="220.00" y2="450.70" stroke="#000030" stroke-width="0.7"/>
<line x1="223.80" y1="389.20" x2="223.80" y2="450.70" stroke="#000030" stroke-width="0.7"/>
<line x1="227.60" y1="374.80" x2="227.60" y2="450.70" stroke="#000030" stroke-width="0.7"/>
<line x1="232.20" y1="369.40" x2="232.20" y2="450.70" stroke="#000030" stroke-width="0.7"/>
<line x1="236.30" y1="357.20" x2="236.30" y2="450.70" stroke="#000030" stroke-width="0.7"/>
<line x1="240.10" y1="355.20" x2="240.10" y2="450.70" stroke="#000030" stroke-width="0.7"/>
<line x1="244.10" y1="361.10" x2="244.10" y2="450.70" stroke="#000030" stroke-width="0.7"/>
<line x1="248.50" y1="363.20" x2="248.50" y2="450.70" stroke="#000030" stroke-width="0.7"/>
<line x1="252.20" y1="380.70" x2="252.20" y2="450.70" stroke="#000030" stroke-width="0.7"/>
<line x1="256.50" y1="400.70" x2="256.50" y2="450.70" stroke="#000030" stroke-width="0.7"/>
<line x1="260.30" y1="414.00" x2="260.30" y2="450.70" stroke="#000030" stroke-width="0.7"/>
<line x1="263.80" y1="430.00" x2="263.80" y2="450.70" stroke="#000030" stroke-width="0.7"/>
<line x1="267.60" y1="433.80" x2="267.60" y2="450.70" stroke="#000030" stroke-width="0.7"/>
<line x1="272.00" y1="444.20" x2="272.00" y2="450.70" stroke="#000030" stroke-width="0.7"/>
<line x1="276.50" y1="446.90" x2="276.50" y2="450.70" stroke="#000030" stroke-width="0.7"/>
<line x1="280.50" y1="448.90" x2="280.50" y2="450.70" stroke="#000030" stroke-width="0.7"/>
<polyline points="313.70,450.63 314.86,450.61 316.01,450.58 317.17,450.53 318.32,450.48 319.48,450.40 320.64,450.31 321.79,450.18 322.95,450.02 324.11,449.81 325.26,449.54 326.42,449.21 327.58,448.78 328.73,448.26 329.89,447.61 331.04,446.81 332.20,445.84 333.36,444.68 334.51,443.29 335.67,441.65 336.82,439.72 337.98,437.50 339.14,434.96 340.29,432.08 341.45,428.86 342.61,425.31 343.76,421.44 344.92,417.29 346.08,412.89 347.23,408.32 348.39,403.63 349.54,398.93 350.70,394.32 351.86,389.88 353.01,385.75 354.17,382.02 355.33,378.81 356.48,376.20 357.64,374.28 358.79,373.10 359.95,372.70 361.11,373.10 362.26,374.28 363.42,376.20 364.58,378.81 365.73,382.02 366.89,385.75 368.04,389.88 369.20,394.32 370.36,398.93 371.51,403.63 372.67,408.32 373.83,412.89 374.98,417.29 376.14,421.44 377.29,425.31 378.45,428.86 379.61,432.08 380.76,434.96 381.92,437.50 383.08,439.72 384.23,441.65 385.39,443.29 386.54,444.68 387.70,445.84 388.86,446.81 390.01,447.61 391.17,448.26 392.33,448.78 393.48,449.21 394.64,449.54 395.79,449.81 396.95,450.02 398.11,450.18 399.26,450.31 400.42,450.40 401.58,450.48 402.73,450.53 403.89,450.58 405.04,450.61 406.20,450.63" fill="none" stroke="#b3122a" stroke-width="1.9" stroke-linejoin="round"/>
<rect x="128.70" y="352.60" width="462.50" height="98.10" fill="none" stroke="#000" stroke-width="1.5"/>
<text x="127.00" y="468.00" text-anchor="middle" class="ax">-20</text>
<text x="184.81" y="468.00" text-anchor="middle" class="ax">-15</text>
<text x="242.62" y="468.00" text-anchor="middle" class="ax">-10</text>
<text x="300.44" y="468.00" text-anchor="middle" class="ax">-5</text>
<text x="360.45" y="468.00" text-anchor="middle" class="ax">0</text>
<text x="418.26" y="468.00" text-anchor="middle" class="ax">5</text>
<text x="476.07" y="468.00" text-anchor="middle" class="ax">10</text>
<text x="533.89" y="468.00" text-anchor="middle" class="ax">15</text>
<text x="591.70" y="468.00" text-anchor="middle" class="ax">20</text>
<text x="125" y="457.20" text-anchor="end" class="ax">0</text>
<text x="125" y="408.15" text-anchor="end" class="ax">500</text>
<text x="125" y="359.30" text-anchor="end" class="ax">1000</text>
<text x="359" y="481.7" text-anchor="middle" class="ax">t-statistic</text>
<rect x="444.5" y="357.80" width="143.0" height="43.50" fill="#fff" stroke="#000" stroke-width="1.3"/>
<rect x="449" y="361.80" width="26" height="18" fill="#0000a0"/>
<line x1="449" y1="391.30" x2="475" y2="391.30" stroke="#c42a3a" stroke-width="2"/>
<text x="477.5" y="370.10" class="lg">Data</text>
<text x="477.5" y="397.80" class="lg">t-distribution, <tspan class="sym">ν</tspan> = 48</text>
</svg>
<div class="box" style="left:36px;top:59px;width:245px;height:96px;"><div class="tx" style="left:7px;top:5px;"><b>Null:</b> If sample comes from<br>a distribution with same<br>mean: good chance of being<br>close to zero</div></div><div class="box" style="left:31px;top:207px;width:307px;height:117px;"><div class="tx" style="left:6px;top:5px;"><b>Borderline:</b> If sample comes from<br>different distribution – we don’t get a<br>t-distribution and little chance of<br>being close to zero. But say ~5% of<br>the time it could be close to zero.</div></div><div class="box" style="left:428px;top:360px;width:244px;height:96px;"><div class="tx" style="left:6px;top:5px;"><b>Alternate:</b> If sample comes<br>from a vastly different<br>distribution – practically no<br>chance of overlapping</div></div>
</body></html>
